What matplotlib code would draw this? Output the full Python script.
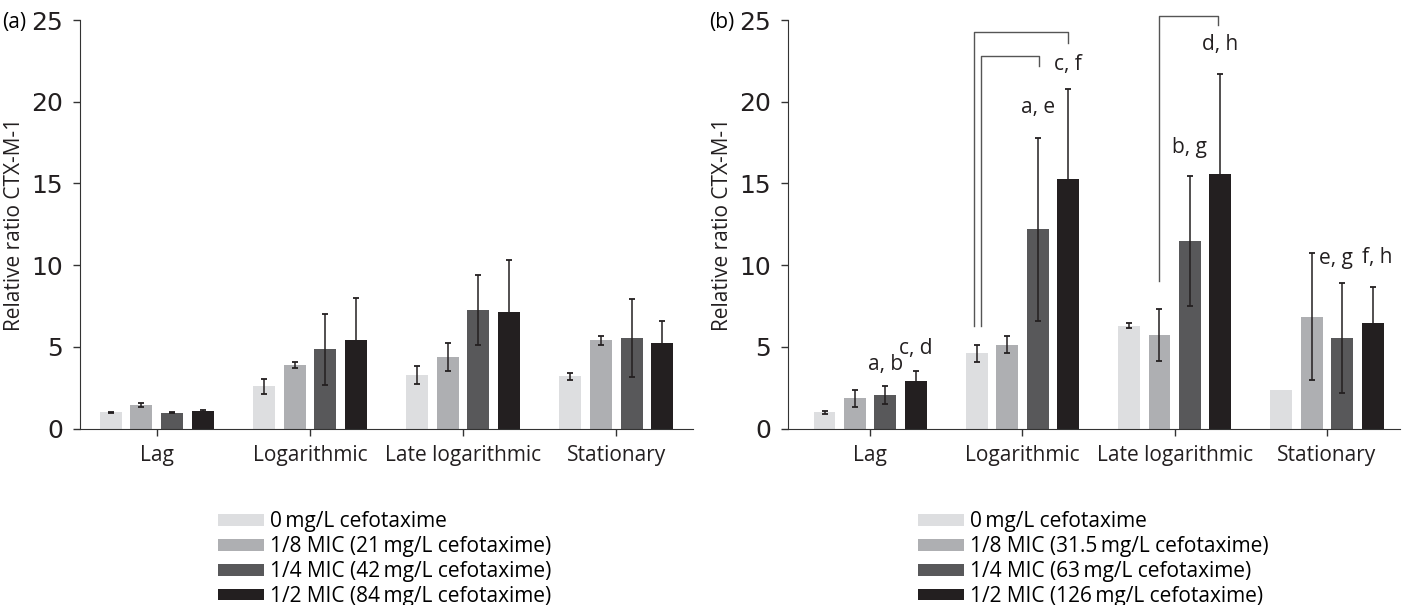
import matplotlib
matplotlib.use("Agg")
import matplotlib.pyplot as plt
import numpy as np

plt.rcParams['font.family'] = ['Open Sans', 'DejaVu Sans']

phases = ['Lag', 'Logarithmic', 'Late logarithmic', 'Stationary']
colors = ['#dddee0', '#aeafb2', '#58585a', '#231f20']

labels_a = ['0\u2009mg/L cefotaxime', '1/8 MIC (21\u2009mg/L cefotaxime)',
            '1/4 MIC (42\u2009mg/L cefotaxime)', '1/2 MIC (84\u2009mg/L cefotaxime)']
labels_b = ['0\u2009mg/L cefotaxime', '1/8 MIC (31.5\u2009mg/L cefotaxime)',
            '1/4 MIC (63\u2009mg/L cefotaxime)', '1/2 MIC (126\u2009mg/L cefotaxime)']

# one row per concentration, columns = phases
vals_a = [[1.0, 2.6, 3.3, 3.2],
          [1.45, 3.9, 4.4, 5.4],
          [0.97, 4.85, 7.25, 5.55],
          [1.1, 5.4, 7.15, 5.25]]
err_a = [[0.03, 0.47, 0.55, 0.23],
         [0.1, 0.2, 0.85, 0.27],
         [0.03, 2.17, 2.16, 2.38],
         [0.05, 2.6, 3.15, 1.33]]

vals_b = [[1.0, 4.6, 6.3, 2.35],
          [1.85, 5.15, 5.75, 6.85],
          [2.05, 12.2, 11.5, 5.55],
          [2.9, 15.3, 15.6, 6.45]]
err_b = [[0.08, 0.53, 0.15, np.nan],
         [0.53, 0.5, 1.6, 3.87],
         [0.55, 5.6, 3.98, 3.39],
         [0.6, 5.45, 6.08, 2.2]]

# significance letters in panel (b): text, x, y
sig_text = ['a, b', 'c, d', 'a, e', 'c, f', 'b, g', 'd, h', 'e, g', 'f, h']
sig_x = [0.1, 0.3, 1.1, 1.3, 2.1, 2.3, 3.06, 3.33]
sig_y = [3.9, 4.9, 19.65, 22.3, 17.2, 23.5, 10.4, 10.5]

# brackets: x left, x right, y left foot, y top, y right foot
brackets = [(0.682, 1.3, 6.27, 24.25, 23.57),
            (0.726, 1.106, 6.27, 22.82, 22.2),
            (1.894, 2.285, 9.02, 25.27, 24.7)]

fig = plt.figure(figsize=(14.06, 6.05), dpi=100)
ax_a = fig.add_axes([80/1406, 1-428.7/605, 613/1406, 408.7/605])
ax_b = fig.add_axes([788/1406, 1-428.7/605, 612/1406, 408.7/605])

x = np.arange(len(phases))
width = 0.144


def draw_panel(ax, vals, errs, labels, tag, legx):
    for i in range(4):
        pos = x + (i - 1.5) * 0.2
        ax.bar(pos, vals[i], width, color=colors[i], label=labels[i], zorder=2)
        ax.errorbar(pos, vals[i], yerr=errs[i], fmt='none', ecolor='#231f20',
                    elinewidth=1.1, capsize=2.5, capthick=1.3, zorder=3)
    ax.set_ylim(0, 25)
    ax.set_yticks([0, 5, 10, 15, 20, 25])
    ax.set_xticks(x)
    ax.set_xticklabels(phases, fontsize=15)
    ax.tick_params(axis='y', labelsize=18, length=5, width=1, pad=7, colors='#333333', labelcolor='#231f20')
    ax.tick_params(axis='x', length=5, width=1, pad=7, colors='#333333', labelcolor='#231f20')
    for lab in ax.get_yticklabels():
        lab.set_family(['Liberation Sans Narrow', 'DejaVu Sans'])
    ax.spines['top'].set_visible(False)
    ax.spines['right'].set_visible(False)
    ax.spines['left'].set_color('#333333')
    ax.spines['bottom'].set_color('#333333')
    ax.set_ylabel('Relative ratio CTX-M-1', fontsize=15, color='#231f20', labelpad=5)
    ax.text(-0.088, 0.993, tag, transform=ax.transAxes, fontsize=15, va='center', ha='right')
    ax.legend(loc='upper left', bbox_to_anchor=(legx, 0.155), bbox_transform=fig.transFigure,
              frameon=False, fontsize=15, handlelength=2.2, handleheight=0.48,
              handletextpad=0.3, labelspacing=0.19, borderpad=0, borderaxespad=0)


draw_panel(ax_a, vals_a, err_a, labels_a, '(a)', 218/1406)
draw_panel(ax_b, vals_b, err_b, labels_b, '(b)', 918/1406)
ax_a.set_xlim(-0.5, 3.5)
ax_b.set_xlim(-0.54, 3.48)

for t, xx, yy in zip(sig_text, sig_x, sig_y):
    ax_b.text(xx, yy, t, fontsize=15, ha='center', va='center', color='#231f20')

for x0, x1, y0, ytop, y1 in brackets:
    ax_b.plot([x0, x0, x1, x1], [y0, ytop, ytop, y1], color='#555555', lw=1,
              clip_on=False, zorder=1)

fig.savefig('out.png', dpi=100)
